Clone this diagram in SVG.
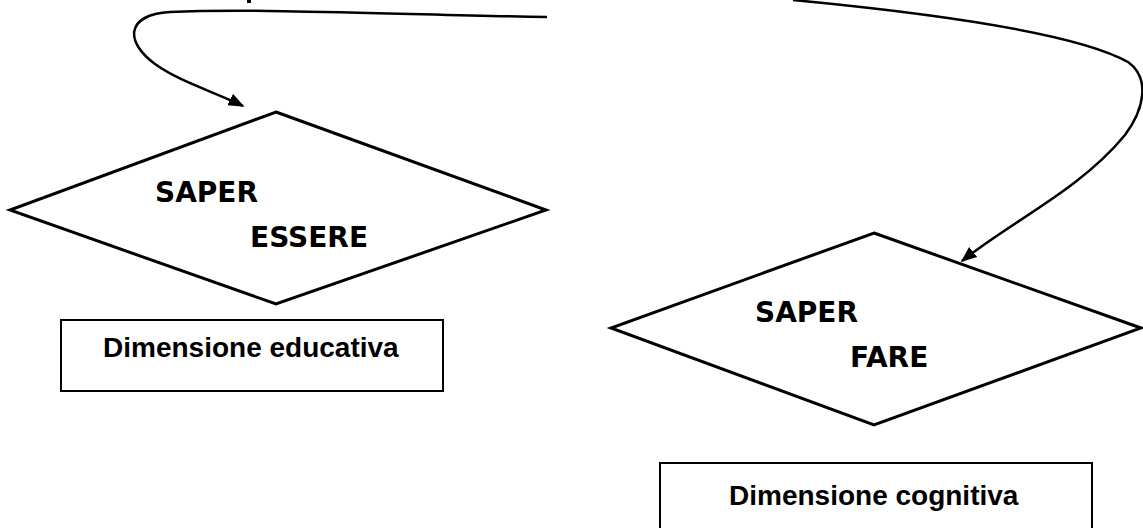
<svg xmlns="http://www.w3.org/2000/svg" width="1143" height="528" viewBox="0 0 1143 528">
<defs>
<style>
.shape{fill:#fff;stroke:#000;stroke-width:3;stroke-linejoin:miter}
.box{fill:#fff;stroke:#000;stroke-width:2}
.conn{fill:none;stroke:#000;stroke-width:2.5}
.comic{font-family:"Comic Sans MS","DejaVu Sans",sans-serif;font-weight:bold;font-size:28px;fill:#000}
.lbl{font-family:"Liberation Sans",Arial,sans-serif;font-weight:bold;font-size:28px;fill:#000}
</style>
<marker id="arrow" viewBox="0 0 10 10" refX="9" refY="5" markerWidth="16" markerHeight="16" orient="auto" markerUnits="userSpaceOnUse">
<path d="M0,1 L10,5 L0,9 z" fill="#000"/>
</marker>
</defs>
<rect width="1143" height="528" fill="#fff"/>
<g id="connectors">
<path class="conn" d="M547,17 C420,15 260,8 170,12 C125,15 125,42 155,64 C180,82 215,92 243,106" marker-end="url(#arrow)"/>
<path class="conn" d="M793,0 C950,15 1080,35 1128,62 C1150,78 1145,108 1125,135 C1080,190 1010,222 962,261" marker-end="url(#arrow)"/>
<rect x="247" y="0" width="4" height="3" fill="#000"/>
</g>
<g id="saper-essere">
<polygon class="shape" points="276,112 546,210 276,304 10,210"/>
<text class="comic" x="155" y="202">SAPER</text>
<text class="comic" x="250" y="247">ESSERE</text>
</g>
<g id="dimensione-educativa">
<rect class="box" x="61" y="320" width="382" height="71"/>
<text class="lbl" x="103" y="357">Dimensione educativa</text>
</g>
<g id="saper-fare">
<polygon class="shape" points="874,233 1141,328 874,425 611,328"/>
<text class="comic" x="755" y="322">SAPER</text>
<text class="comic" x="850" y="367">FARE</text>
</g>
<g id="dimensione-cognitiva">
<rect class="box" x="660" y="463" width="432" height="80"/>
<text class="lbl" x="729" y="505">Dimensione cognitiva</text>
</g>
</svg>
